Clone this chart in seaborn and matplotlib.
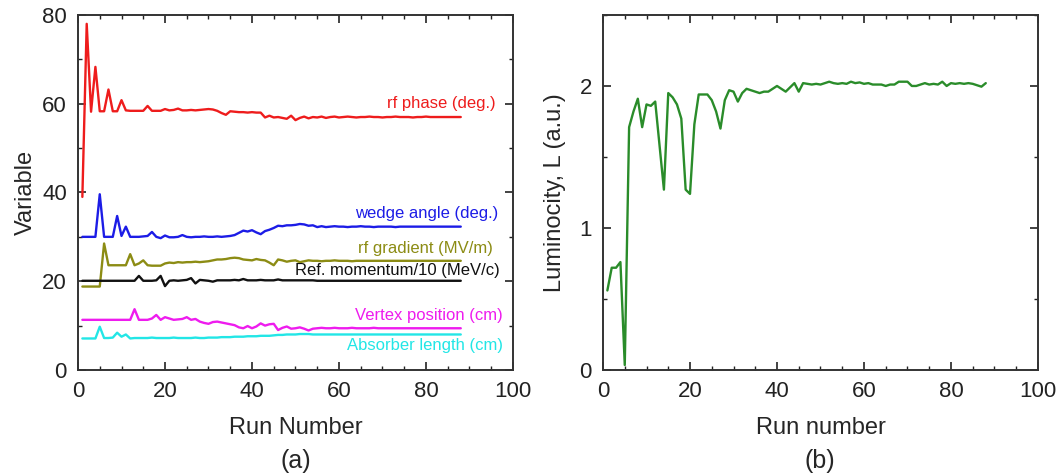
import numpy as np
import pandas as pd
import matplotlib.pyplot as plt
import seaborn as sns
from matplotlib.ticker import MultipleLocator

# Run numbers (both panels)
runs = list(range(1, 89))

# Panel (a): optimised variables vs run number
rf_phase = [39, 78, 58.2, 68.3, 58.3, 58.3, 63.2, 58.3, 58.3, 60.8,
            58.5, 58.4, 58.4, 58.4, 58.4, 59.5, 58.4, 58.4, 58.4, 58.8,
            58.5, 58.6, 58.9, 58.5, 58.5, 58.6, 58.5, 58.6, 58.7, 58.8,
            58.7, 58.4, 57.9, 57.5, 58.3, 58.2, 58.1, 58.1, 58.0, 58.1,
            58.0, 58.0, 56.9, 57.3, 56.9, 57.0, 56.8, 56.6, 57.3, 56.3,
            56.8, 57.1, 56.7, 57.0, 56.9, 57.1, 56.8, 57.0, 57.1, 56.9,
            57.0, 57.1, 57.0, 56.9, 57.0, 57.0, 57.1, 57.0, 57.0, 56.9,
            57.0, 57.0, 57.1, 57.0, 57.0, 57.0, 56.9, 57.0, 57.0, 57.1,
            57.0, 57.0, 57.0, 57.0, 57.0, 57.0, 57.0, 57.0]
wedge_angle = [30.0, 30.0, 30.0, 30.0, 39.6, 30.0, 30.0, 30.0, 34.7, 30.2,
               32.3, 30.0, 30.0, 30.0, 30.1, 30.2, 31.1, 30.0, 29.7, 30.3,
               29.9, 29.9, 30.0, 30.4, 30.0, 29.9, 30.0, 30.0, 30.1, 30.0,
               30.0, 30.1, 30.0, 30.1, 30.2, 30.4, 30.9, 31.4, 31.2, 31.5,
               31.0, 30.6, 31.3, 31.6, 32.0, 32.5, 32.4, 32.6, 32.6, 32.7,
               32.9, 32.8, 32.5, 32.6, 32.2, 32.4, 32.2, 32.3, 32.4, 32.3,
               32.3, 32.2, 32.3, 32.3, 32.4, 32.3, 32.3, 32.2, 32.3, 32.3,
               32.3, 32.3, 32.2, 32.3, 32.3, 32.3, 32.3, 32.3, 32.3, 32.3,
               32.3, 32.3, 32.3, 32.3, 32.3, 32.3, 32.3, 32.3]
rf_gradient = [18.8, 18.8, 18.8, 18.8, 18.8, 28.5, 23.6, 23.6, 23.6, 23.6,
               23.6, 26.1, 23.6, 24.0, 24.7, 23.6, 23.5, 23.5, 23.5, 24.0,
               24.2, 24.1, 24.3, 24.2, 24.3, 24.3, 24.4, 24.3, 24.4, 24.5,
               24.7, 24.9, 24.9, 25.0, 25.2, 25.3, 25.2, 24.9, 24.8, 24.7,
               25.0, 24.8, 24.7, 24.2, 23.6, 24.9, 24.7, 24.4, 24.6, 24.7,
               24.3, 24.5, 24.7, 24.6, 24.6, 24.5, 24.6, 24.6, 24.7, 24.6,
               24.6, 24.6, 24.5, 24.6, 24.6, 24.6, 24.6, 24.6, 24.6, 24.6,
               24.6, 24.6, 24.6, 24.6, 24.6, 24.6, 24.6, 24.6, 24.6, 24.6,
               24.6, 24.6, 24.6, 24.6, 24.6, 24.6, 24.6, 24.6]
ref_momentum = [20.1, 20.1, 20.1, 20.1, 20.1, 20.1, 20.1, 20.1, 20.1, 20.1,
                20.1, 20.1, 20.1, 21.2, 20.1, 20.1, 20.1, 20.2, 21.2, 18.9,
                20.1, 20.2, 20.1, 20.2, 20.3, 20.7, 19.5, 20.3, 20.2, 20.1,
                19.9, 20.2, 20.2, 20.2, 20.2, 20.3, 20.2, 20.5, 20.2, 20.2,
                20.2, 20.3, 20.2, 20.2, 20.2, 20.4, 20.2, 20.2, 20.2, 20.2,
                20.2, 20.2, 20.2, 20.2, 20.1, 20.1, 20.1, 20.1, 20.1, 20.1,
                20.1, 20.1, 20.1, 20.1, 20.1, 20.1, 20.1, 20.1, 20.1, 20.1,
                20.1, 20.1, 20.1, 20.1, 20.1, 20.1, 20.1, 20.1, 20.1, 20.1,
                20.1, 20.1, 20.1, 20.1, 20.1, 20.1, 20.1, 20.1]
vertex_pos = [11.3, 11.3, 11.3, 11.3, 11.3, 11.3, 11.3, 11.3, 11.3, 11.3,
              11.3, 11.3, 13.7, 11.3, 11.3, 11.3, 11.6, 12.4, 11.3, 11.9,
              11.6, 11.3, 11.4, 11.5, 11.9, 11.3, 11.5, 10.9, 10.6, 10.4,
              10.8, 10.9, 10.7, 10.5, 10.3, 10.1, 9.6, 9.4, 9.9, 9.4,
              9.8, 10.5, 10.0, 10.3, 10.4, 9.0, 9.5, 9.8, 9.3, 9.4,
              9.6, 9.3, 8.9, 9.3, 9.4, 9.5, 9.4, 9.4, 9.5, 9.4,
              9.4, 9.4, 9.5, 9.4, 9.4, 9.4, 9.4, 9.5, 9.4, 9.4,
              9.4, 9.4, 9.4, 9.4, 9.4, 9.4, 9.4, 9.4, 9.4, 9.4,
              9.4, 9.4, 9.4, 9.4, 9.4, 9.4, 9.4, 9.4]
absorber_len = [7.1, 7.1, 7.1, 7.1, 9.75, 7.2, 7.2, 7.3, 8.4, 7.5,
                8.0, 7.1, 7.2, 7.2, 7.2, 7.2, 7.3, 7.2, 7.2, 7.2,
                7.2, 7.3, 7.2, 7.2, 7.2, 7.2, 7.3, 7.2, 7.2, 7.3,
                7.3, 7.3, 7.4, 7.4, 7.4, 7.5, 7.5, 7.5, 7.6, 7.6,
                7.6, 7.7, 7.7, 7.7, 7.8, 7.9, 7.9, 8.0, 8.0, 8.0,
                8.1, 8.1, 8.1, 8.0, 8.0, 8.0, 8.0, 8.0, 8.0, 8.0,
                8.0, 8.0, 8.0, 8.0, 8.0, 8.0, 8.0, 8.0, 8.0, 8.0,
                8.0, 8.0, 8.0, 8.0, 8.0, 8.0, 8.0, 8.0, 8.0, 8.0,
                8.0, 8.0, 8.0, 8.0, 8.0, 8.0, 8.0, 8.0]

# Panel (b): luminosity vs run number
luminosity = [0.56, 0.72, 0.72, 0.76, 0.035, 1.71, 1.82, 1.91, 1.71, 1.87,
              1.86, 1.89, 1.58, 1.27, 1.95, 1.92, 1.87, 1.77, 1.27, 1.24,
              1.73, 1.94, 1.94, 1.94, 1.90, 1.82, 1.70, 1.90, 1.97, 1.96,
              1.89, 1.95, 1.98, 1.97, 1.96, 1.95, 1.96, 1.96, 1.98, 2.00,
              1.98, 1.96, 1.99, 2.02, 1.96, 2.02, 2.015, 2.01, 2.015, 2.01,
              2.02, 2.03, 2.02, 2.015, 2.02, 2.015, 2.03, 2.02, 2.025, 2.015,
              2.02, 2.01, 2.01, 2.01, 2.00, 2.01, 2.01, 2.03, 2.03, 2.03,
              2.00, 2.00, 2.01, 2.02, 2.01, 2.015, 2.01, 2.03, 2.00, 2.02,
              2.015, 2.02, 2.015, 2.02, 2.015, 2.005, 1.995, 2.02]

series = [
    (rf_phase, "#ee1c1c", "rf phase (deg.)", 96.0, 60.0),
    (wedge_angle, "#1c1ce6", "wedge angle (deg.)", 96.6, 35.3),
    (rf_gradient, "#8c8c14", "rf gradient (MV/m)", 95.3, 27.4),
    (ref_momentum, "#111111", "Ref. momentum/10 (MeV/c)", 97.0, 22.4),
    (vertex_pos, "#ee1cee", "Vertex position (cm)", 97.7, 12.2),
    (absorber_len, "#22e6e6", "Absorber length (cm)", 97.7, 5.6),
]

sns.set_style("ticks")
plt.rcParams['font.family'] = ['Liberation Sans', 'DejaVu Sans']

fig = plt.figure(figsize=(10.57, 4.75), dpi=100)
ax1 = fig.add_axes([0.0738, 0.2211, 0.4115, 0.7474])
ax2 = fig.add_axes([0.5705, 0.2211, 0.4115, 0.7474])

# Panel (a)
for vals, col, lab, tx, ty in series:
    sns.lineplot(x=runs, y=vals, ax=ax1, color=col, linewidth=1.7)
    ax1.text(tx, ty, lab, color=col, fontsize=12, ha='right', va='center')
ax1.set_xlim(0, 100)
ax1.set_ylim(0, 80)
ax1.yaxis.set_major_locator(MultipleLocator(20))
ax1.yaxis.set_minor_locator(MultipleLocator(10))
ax1.set_xlabel("Run Number", fontsize=17, labelpad=11)
ax1.set_ylabel("Variable", fontsize=17, labelpad=4)

# Panel (b)
sns.lineplot(x=runs, y=luminosity, ax=ax2, color="#2a8c2a", linewidth=1.7)
ax2.set_xlim(0, 100)
ax2.set_ylim(0, 2.5)
ax2.yaxis.set_major_locator(MultipleLocator(1))
ax2.yaxis.set_minor_locator(MultipleLocator(0.5))
ax2.set_xlabel("Run number", fontsize=17, labelpad=11)
ax2.set_ylabel("Luminocity, L (a.u.)", fontsize=17, labelpad=10)

for ax in (ax1, ax2):
    ax.xaxis.set_major_locator(MultipleLocator(20))
    ax.xaxis.set_minor_locator(MultipleLocator(5))
    ax.tick_params(which='both', direction='in', top=True, right=True, colors='#222222')
    ax.tick_params(which='major', length=6, width=1.2, labelsize=16, pad=8)
    ax.tick_params(which='minor', length=3, width=1.0)
    for sp in ax.spines.values():
        sp.set_visible(True)
        sp.set_color('#333333')
        sp.set_linewidth(1.4)

fig.text(0.2795, 0.03, "(a)", fontsize=18, ha='center', va='center')
fig.text(0.776, 0.03, "(b)", fontsize=18, ha='center', va='center')

fig.savefig("out.png", dpi=100)
